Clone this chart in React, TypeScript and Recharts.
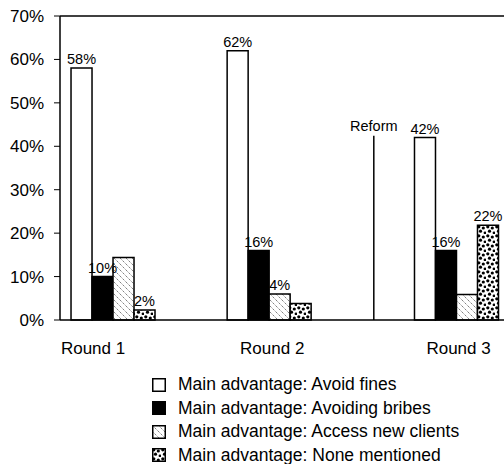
import React from "react";
import { BarChart, Bar, XAxis, YAxis, ReferenceLine, LabelList } from "recharts";

const rounds = ["Round 1", "Round 2", "Round 3"];
// rounds were not evenly spaced in time, the reform came between round 2 and 3
const roundPosition = [1, 2, 3.2];
const reformPosition = 2.67;

const avoidFines = [58, 62, 42];
const avoidBribes = [10, 16, 16];
const accessClients = [14.4, 6, 5.9];
const noneMentioned = [2.3, 3.8, 21.8];

const finesLabels = ["58%", "62%", "42%"];
const bribesLabels = ["10%", "16%", "16%"];
const clientsLabels = [null, "4%", null];
const noneLabels = ["2%", null, "22%"];

const yTicks = [0, 10, 20, 30, 40, 50, 60, 70];

const series = [
  { key: "fines", label: "finesLabel", name: "Main advantage: Avoid fines", fill: "#fff" },
  { key: "bribes", label: "bribesLabel", name: "Main advantage: Avoiding bribes", fill: "#000" },
  { key: "clients", label: "clientsLabel", name: "Main advantage: Access new clients", fill: "url(#hatch)" },
  { key: "none", label: "noneLabel", name: "Main advantage: None mentioned", fill: "url(#dots)" },
];

const data = rounds.map((round, i) => ({
  round,
  pos: roundPosition[i],
  fines: avoidFines[i],
  bribes: avoidBribes[i],
  clients: accessClients[i],
  none: noneMentioned[i],
  finesLabel: finesLabels[i],
  bribesLabel: bribesLabels[i],
  clientsLabel: clientsLabels[i],
  noneLabel: noneLabels[i],
}));

const FONT = "'Liberation Sans', Arial, sans-serif";
// the round names are not quite centred under their bars in the original
const labelShift = [-20, 3, 2];

const RoundTick = (props: any) => {
  const { x, y, payload } = props;
  const i = roundPosition.indexOf(payload.value);
  return (
    <text x={x + (labelShift[i] ?? 0)} y={y} dy="0.71em" textAnchor="middle" fill="#000" fontSize={17} fontFamily={FONT}>
      {rounds[i] ?? ""}
    </text>
  );
};

export default function App() {
  return (
    <div style={{ position: "absolute", left: 0, top: 0, width: 504, height: 464, overflow: "hidden", background: "#fff" }}>
      <BarChart
        width={519}
        height={464}
        data={data}
        margin={{ top: 16, right: 0, bottom: 104, left: 0 }}
        barGap={0}
        barSize={21}
      >
        <defs>
          <pattern id="hatch" patternUnits="userSpaceOnUse" width={6} height={6}>
            <rect width={6} height={6} fill="#fff" />
            <path d="M0,0 L6,6 M-1,5 L1,7 M5,-1 L7,1" stroke="#444" strokeWidth={0.8} strokeDasharray="1.2 1" />
          </pattern>
          <pattern id="dots" patternUnits="userSpaceOnUse" width={9} height={9}>
            <rect width={9} height={9} fill="#fff" />
            <circle cx={1.8} cy={1.8} r={1.6} fill="#000" />
            <circle cx={6.3} cy={3} r={1.6} fill="#000" />
            <circle cx={3.5} cy={6.2} r={1.6} fill="#000" />
            <circle cx={8} cy={7.8} r={1.4} fill="#000" />
          </pattern>
        </defs>
        <XAxis
          dataKey="pos"
          type="number"
          domain={[0.66, 3.6]}
          ticks={roundPosition}
          height={40}
          tickLine={false}
          tickSize={0}
          tickMargin={22}
          axisLine={{ stroke: "#000", strokeWidth: 1.5 }}
          tick={<RoundTick />}
        />
        <YAxis
          domain={[0, 70]}
          ticks={yTicks}
          width={60}
          tickSize={6}
          tickMargin={10}
          tickFormatter={(v: number) => `${v}%`}
          axisLine={{ stroke: "#000", strokeWidth: 1.5 }}
          tickLine={{ stroke: "#000" }}
          tick={{ fill: "#000", fontSize: 17, fontFamily: FONT }}
        />
        <ReferenceLine y={70} stroke="#000" strokeWidth={1.5} />
        <ReferenceLine
          segment={[
            { x: reformPosition, y: 0 },
            { x: reformPosition, y: 42.4 },
          ]}
          stroke="#000"
          strokeWidth={1.5}
          label={{ value: "Reform", position: "top", fill: "#000", fontSize: 14.5, fontFamily: FONT }}
        />
        {series.map((s) => (
          <Bar key={s.key} dataKey={s.key} name={s.name} fill={s.fill} stroke="#000" strokeWidth={1.5} isAnimationActive={false}>
            <LabelList dataKey={s.label} position="top" offset={4} fill="#000" fontSize={14.5} fontFamily={FONT} />
          </Bar>
        ))}
      </BarChart>
      <div style={{ position: "absolute", left: 152, top: 373, fontFamily: FONT, fontSize: 17.5, color: "#000" }}>
        {series.map((s) => (
          <div key={s.key} style={{ display: "flex", alignItems: "center", height: 23.5 }}>
            <svg width={14} height={14} style={{ marginRight: 12 }}>
              <rect x={0.75} y={0.75} width={12.5} height={12.5} fill={s.fill} stroke="#000" strokeWidth={1.5} />
            </svg>
            <span style={{ whiteSpace: "nowrap" }}>{s.name}</span>
          </div>
        ))}
      </div>
    </div>
  );
}
